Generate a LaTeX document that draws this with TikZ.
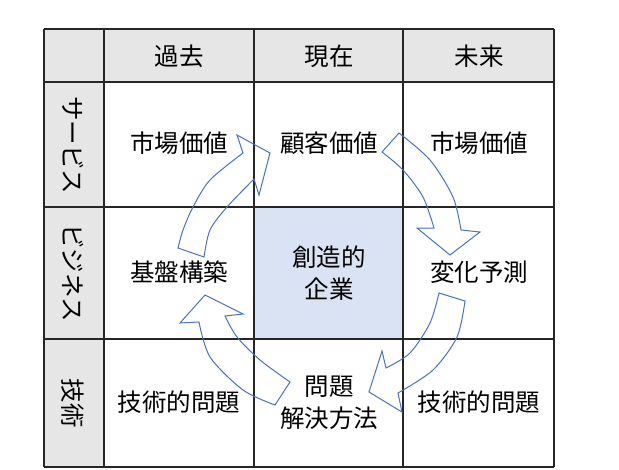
\documentclass[tikz,border=0pt]{standalone}
\usepackage{fontspec}
\setmainfont{Noto Sans CJK JP}
\usepackage{tikz}
\usetikzlibrary{positioning}
\definecolor{hdrgray}{HTML}{E7E6E6}
\definecolor{corefill}{HTML}{DAE3F3}
\definecolor{cyclecol}{HTML}{4A72BE}
\definecolor{gridcol}{HTML}{262626}
\tikzstyle{grid}=[draw=gridcol,line width=1.3pt]
\tikzstyle{cell}=[inner sep=0pt,align=center,font=\fontsize{24.5}{32}\selectfont]
\tikzstyle{side}=[cell,rotate=-90]
\tikzstyle{cyc}=[draw=cyclecol,line width=1pt,line join=miter]

\begin{document}
\begin{tikzpicture}[x=1pt,y=-1pt]
\useasboundingbox (0,0) rectangle (619,469);

%fills
\fill[hdrgray] (44,29) rectangle (554,82);
\fill[hdrgray] (44,82) rectangle (104,467);
\fill[corefill] (254,207) rectangle (403,339);

%grid
\foreach \x in {44,104,254,403,554} {
\draw[grid] (\x,29) -- (\x,467);
}
\foreach \y in {29,82,207,339,467} {
\draw[grid] (44,\y) -- (554,\y);
}

%header
\node[cell] (past) at (179,56) {過去};
\node[cell] (now) at (329,56) {現在};
\node[cell] (future) at (479,56) {未来};

%side
\node[side] (service) at (73,145) {サービス};
\node[side] (business) at (73,273) {ビジネス};
\node[side] (tech) at (73,403) {技術};

%cells
\node[cell] (mktpast) at (179,143) {市場価値};
\node[cell] (cust) at (329,143) {顧客価値};
\node[cell] (mktfut) at (479,143) {市場価値};
\node[cell] (base) at (179,272) {基盤構築};
\node[cell] (core) at (329,273) {創造的\\企業};
\node[cell] (change) at (479,272) {変化予測};
\node[cell] (techpast) at (179,402) {技術的問題};
\node[cell] (solve) at (329,403) {問題\\解決方法};
\node[cell] (techfut) at (479,402) {技術的問題};

%arrow up
\draw[cyc] plot[smooth] coordinates {(178,248) (183,230) (193,207) (210,180) (243,153)}
  -- (237,135) -- (270,153) -- (259,195) -- (254,179)
  -- plot[smooth] coordinates {(254,179) (227,207) (210,230) (204,257)} -- cycle;

%arrow right
\draw[cyc] plot[smooth] coordinates {(399,133) (430,160) (453,197) (461,230)}
  -- (480,232) -- (450,255) -- (417,228) -- (434,228)
  -- plot[smooth] coordinates {(434,228) (423,197) (403,170) (382,152)} -- cycle;

%arrow down
\draw[cyc] plot[smooth] coordinates {(465,301) (457,337) (433,370) (398,393)}
  -- (402,412) -- (369,392) -- (382,351) -- (386,368)
  -- plot[smooth] coordinates {(386,368) (410,353) (430,323) (439,293)} -- cycle;

%arrow left
\draw[cyc] plot[smooth] coordinates {(290,382) (260,360) (237,337) (225,316)}
  -- (243,314) -- (205,295) -- (180,323) -- (199,322)
  -- plot[smooth] coordinates {(199,322) (210,357) (243,390) (275,405)} -- cycle;
\end{tikzpicture}
\end{document}
